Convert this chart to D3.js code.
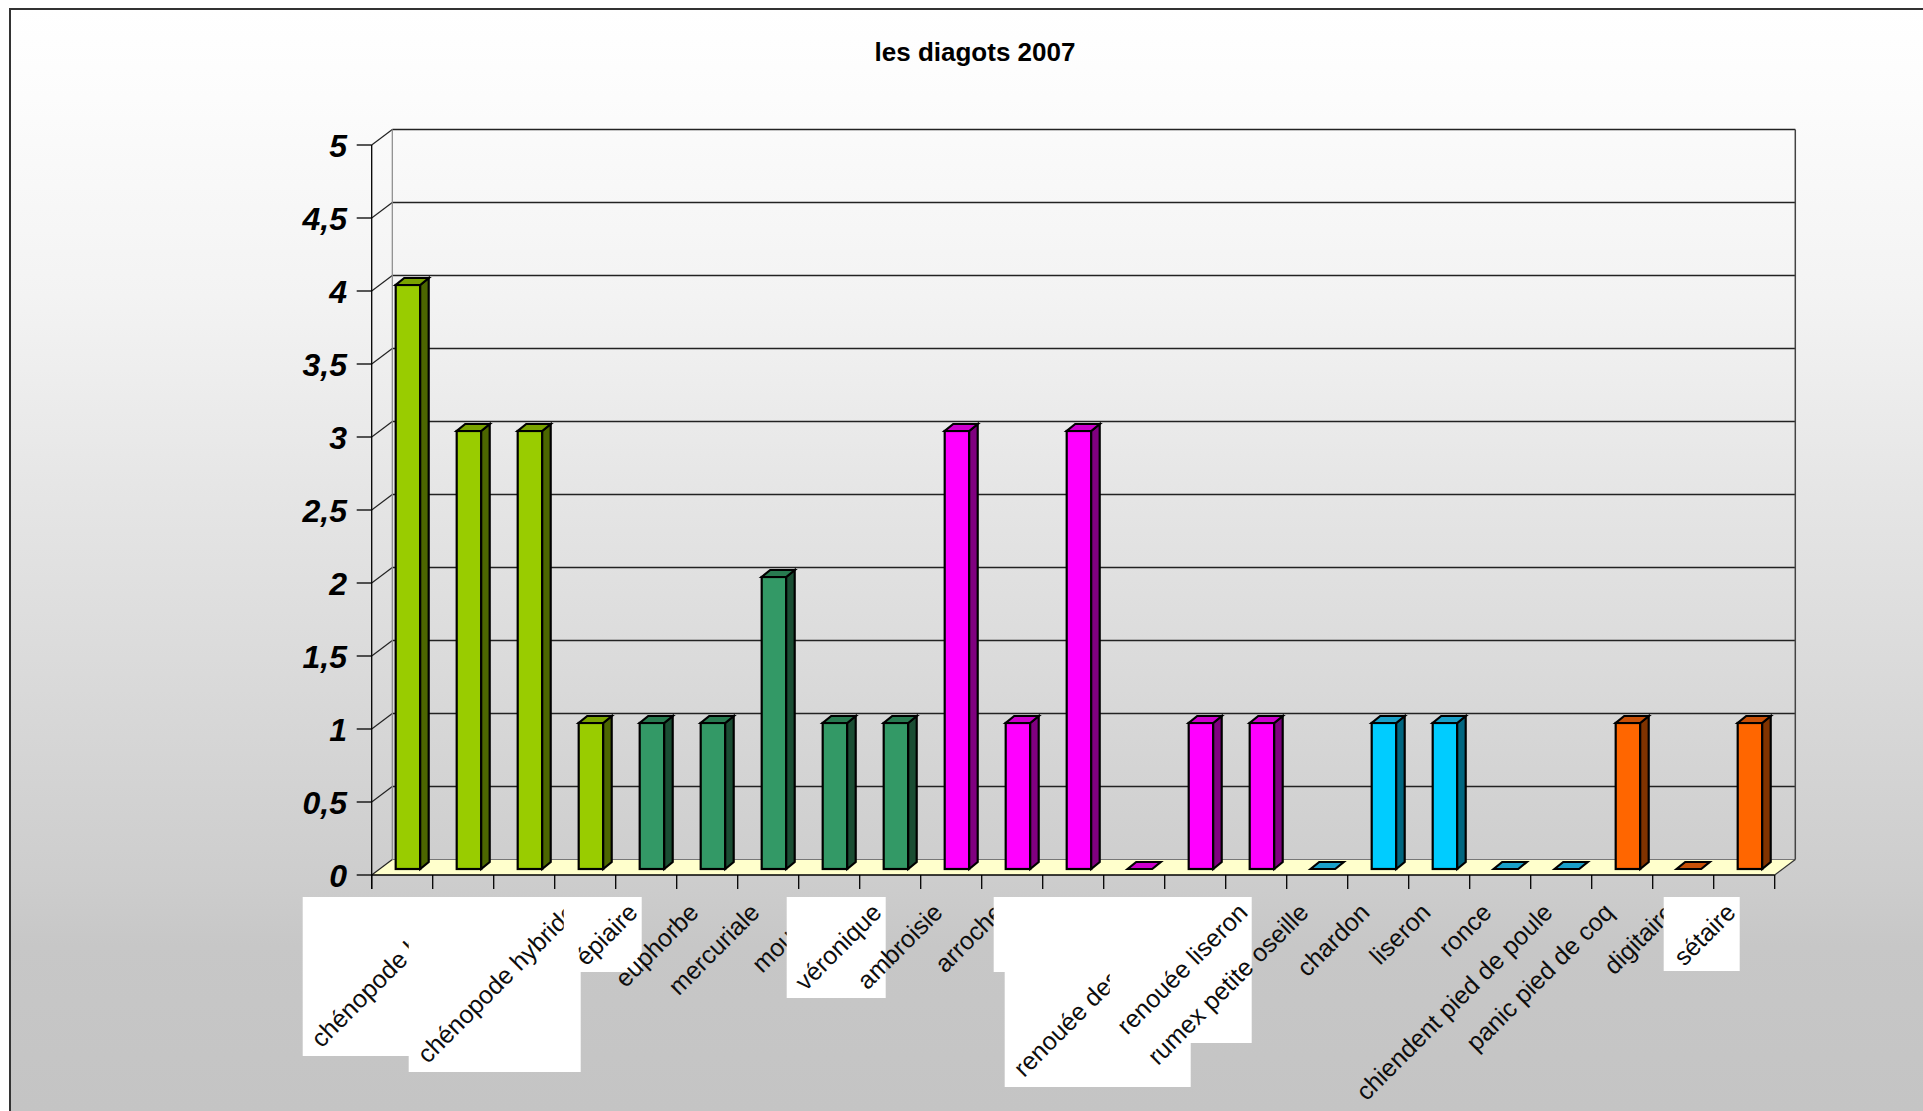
<!DOCTYPE html>
<html>
<head>
<meta charset="utf-8">
<script src="https://cdn.jsdelivr.net/npm/d3@7/dist/d3.min.js"></script>
<style>
  html, body { margin: 0; padding: 0; background: #ffffff; overflow: hidden; }
  svg { display: block; }
</style>
</head>
<body>
<svg id="chart" width="1923" height="1111"></svg>
<script>
// ---- data ----
const chartTitle = "les diagots 2007";
const categories = [
  "", "chénopode blanc", "", "chénopode hybride", "épiaire", "euphorbe",
  "mercuriale", "mouron", "véronique", "ambroisie", "arroche", "", "",
  "renouée des oiseaux", "renouée liseron", "rumex petite oseille", "chardon",
  "liseron", "ronce", "chiendent pied de poule", "panic pied de coq",
  "digitaire", "sétaire"
];
const values = [4, 3, 3, 1, 1, 1, 2, 1, 1, 3, 1, 3, 0, 1, 1, 0, 1, 1, 0, 0, 1, 0, 1];
// weed family of each category (index into the palettes below)
const family = [0, 0, 0, 0, 1, 1, 1, 1, 1, 2, 2, 2, 2, 2, 2, 3, 3, 3, 3, 3, 4, 4, 4];
const yTicks = [0, 0.5, 1, 1.5, 2, 2.5, 3, 3.5, 4, 4.5, 5];
const yTickLabels = ["0", "0,5", "1", "1,5", "2", "2,5", "3", "3,5", "4", "4,5", "5"];

// ---- styles / layout ----
const frontColors = ["#99cc00", "#339966", "#ff00ff", "#00ccff", "#ff6600"];
const sideColors  = ["#4c6600", "#1a4d33", "#800080", "#006680", "#803300"];
const topColors   = ["#7aa300", "#287a50", "#cc00cc", "#1aa0c8", "#c85008"];

// white plates behind some category labels (width / height, right edge near the tick centre)
const labelPlates = [
  { cat: 1,  w: 156, h: 159 },
  { cat: 3,  w: 172, h: 175 },
  { cat: 4,  w: 78,  h: 75 },
  { cat: 8,  w: 99,  h: 101 },
  { cat: 11, w: 75,  h: 75 },
  { cat: 13, w: 186, h: 190 },
  { cat: 14, w: 142, h: 146 },
  { cat: 22, w: 76,  h: 74 }
];

const W = 1923, H = 1111;
const plot = { left: 371.7, right: 1774.7, top: 145, bottom: 875 };
const depth = { dx: 20.6, dy: -15.5 };          // back wall offset
const barDepth = { dx: 8.5, dy: -7 };           // bar side depth
const barInset = { dx: 24, dy: -6, w: 24.5 };   // bar placement inside its band
const labelFont = "Arial, 'Liberation Sans', sans-serif";

const svg = d3.select("#chart");
const defs = svg.append("defs");

// background gradient of the chart area
const grad = defs.append("linearGradient")
  .attr("id", "bg").attr("gradientUnits", "userSpaceOnUse")
  .attr("x1", 0).attr("y1", 9).attr("x2", 0).attr("y2", H);
[[0, 255], [0.08, 252], [0.26, 243], [0.43, 230], [0.79, 205], [0.85, 199], [1, 196]]
  .forEach(([o, g]) => grad.append("stop").attr("offset", o).attr("stop-color", d3.rgb(g, g, g)));

svg.append("rect")
  .attr("x", 10).attr("y", 9).attr("width", 1960).attr("height", 1160)
  .attr("fill", "url(#bg)").attr("stroke", "#333").attr("stroke-width", 2);

// title
svg.append("text")
  .attr("x", 975).attr("y", 61)
  .attr("text-anchor", "middle")
  .attr("font-family", labelFont)
  .attr("font-weight", "bold").attr("font-size", 26)
  .attr("fill", "#000")
  .text(chartTitle);

// scales
const x = d3.scaleBand().domain(d3.range(categories.length)).range([plot.left, plot.right]).padding(0);
const y = d3.scaleLinear().domain([0, 5]).range([plot.bottom, plot.top]);

const g = svg.append("g");

// floor
const bx = plot.left + depth.dx, by = plot.bottom + depth.dy;
g.append("polygon")
  .attr("points", [[plot.left, plot.bottom], [plot.right, plot.bottom],
                   [plot.right + depth.dx, by], [bx, by]].join(" "))
  .attr("fill", "#ffffcc").attr("stroke", "none");

// back wall grid lines + side wall diagonals
yTicks.forEach(v => {
  const yy = y(v);
  g.append("line")
    .attr("x1", bx).attr("x2", plot.right + depth.dx)
    .attr("y1", yy + depth.dy).attr("y2", yy + depth.dy)
    .attr("stroke", v === 0 ? "#777" : "#222").attr("stroke-width", v === 0 ? 1 : 1.3);
  g.append("line")
    .attr("x1", plot.left).attr("y1", yy)
    .attr("x2", bx).attr("y2", yy + depth.dy)
    .attr("stroke", "#222").attr("stroke-width", 1.2);
});

// wall edges
g.append("line").attr("x1", bx).attr("x2", bx)
  .attr("y1", y(5) + depth.dy).attr("y2", by)
  .attr("stroke", "#888").attr("stroke-width", 1.2);
g.append("line").attr("x1", plot.right + depth.dx).attr("x2", plot.right + depth.dx)
  .attr("y1", y(5) + depth.dy).attr("y2", by)
  .attr("stroke", "#444").attr("stroke-width", 1.5);
g.append("line").attr("x1", plot.right).attr("y1", plot.bottom)
  .attr("x2", plot.right + depth.dx).attr("y2", by)
  .attr("stroke", "#333").attr("stroke-width", 1.2);

// bars
const barG = g.append("g").attr("stroke", "#000").attr("stroke-width", 2.2).attr("stroke-linejoin", "miter");
categories.forEach((c, i) => {
  const v = values[i], f = family[i];
  const xL = x(i) + barInset.dx, xR = xL + barInset.w;
  const yB = y(0) + barInset.dy, yT = y(v) + barInset.dy;
  const ddx = barDepth.dx, ddy = barDepth.dy;
  if (v > 0) {
    barG.append("rect")
      .attr("x", xL).attr("y", yT).attr("width", xR - xL).attr("height", yB - yT)
      .attr("fill", frontColors[f]);
    barG.append("polygon")
      .attr("points", [[xR, yT], [xR + ddx, yT + ddy], [xR + ddx, yB + ddy], [xR, yB]].join(" "))
      .attr("fill", sideColors[f]);
  }
  barG.append("polygon")
    .attr("points", [[xL, yT], [xR, yT], [xR + ddx, yT + ddy], [xL + ddx, yT + ddy]].join(" "))
    .attr("fill", topColors[f]);
});

// axes
const axisColor = "#000";
// value axis line, ticks and labels
g.append("line").attr("x1", plot.left).attr("x2", plot.left)
  .attr("y1", plot.top).attr("y2", plot.bottom + 14)
  .attr("stroke", axisColor).attr("stroke-width", 1.3);
yTicks.forEach((v, k) => {
  g.append("line").attr("x1", plot.left - 15).attr("x2", plot.left)
    .attr("y1", y(v)).attr("y2", y(v))
    .attr("stroke", axisColor).attr("stroke-width", 1.3);
  g.append("text")
    .attr("x", 347).attr("y", y(v) + 11.5)
    .attr("text-anchor", "end")
    .attr("font-family", labelFont)
    .attr("font-weight", "bold").attr("font-style", "italic").attr("font-size", 32)
    .attr("fill", "#000")
    .text(yTickLabels[k]);
});

// category axis
g.append("line").attr("x1", plot.left).attr("x2", plot.right)
  .attr("y1", plot.bottom).attr("y2", plot.bottom)
  .attr("stroke", axisColor).attr("stroke-width", 1.5);
d3.range(categories.length + 1).forEach(k => {
  const xx = plot.left + k * x.bandwidth();
  g.append("line").attr("x1", xx).attr("x2", xx)
    .attr("y1", plot.bottom).attr("y2", plot.bottom + 14)
    .attr("stroke", axisColor).attr("stroke-width", 1.3);
});

// category labels, rotated, some on white plates
const labelG = svg.append("g");
categories.forEach((c, i) => {
  const cx = x(i) + x.bandwidth() / 2;
  const plate = labelPlates.find(p => p.cat === i);
  if (plate) {
    labelG.append("rect")
      .attr("x", cx - 4.5 - plate.w).attr("y", 897)
      .attr("width", plate.w).attr("height", plate.h)
      .attr("fill", "#ffffff");
  }
  if (c) {
    labelG.append("text")
      .attr("transform", `translate(${cx - 7},${914}) rotate(-45)`)
      .attr("text-anchor", "end")
      .attr("font-family", labelFont)
      .attr("font-size", 25)
      .attr("fill", "#0d0d0d")
      .text(c);
  }
});
</script>
</body>
</html>
